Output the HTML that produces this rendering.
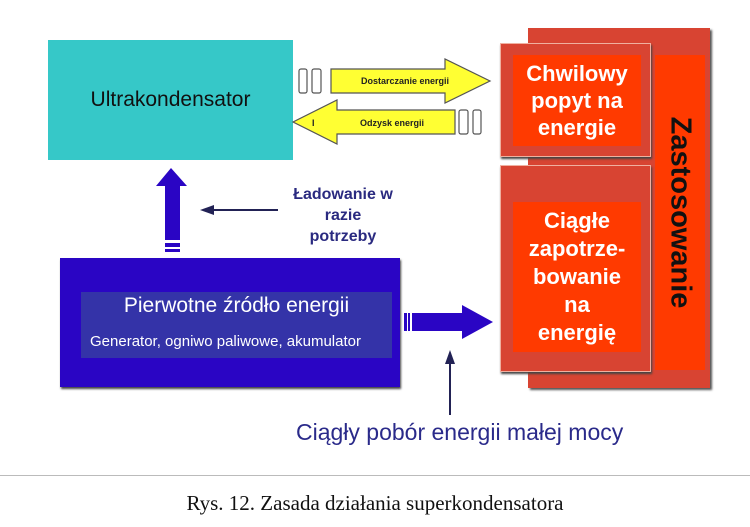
<!DOCTYPE html>
<html><head><meta charset="utf-8"><style>
body{margin:0;width:750px;height:527px;background:#fff;position:relative;overflow:hidden;font-family:"Liberation Sans",sans-serif}
div{position:absolute;box-sizing:border-box}
.c{display:flex;align-items:center;justify-content:center;text-align:center}
</style></head><body>
<div class="c" style="left:48px;top:40px;width:245px;height:120px;background:#36c8c8;font-size:21px;color:#111">Ultrakondensator</div>

<div style="left:528px;top:28px;width:182px;height:360px;background:#d84432;box-shadow:2px 2px 2px #555"></div>
<div style="left:655px;top:55px;width:50px;height:315px;background:#ff3a00"></div>
<div class="c" style="left:655px;top:55px;width:50px;height:315px"><div style="position:static;transform:rotate(90deg);white-space:nowrap;font-weight:bold;font-size:29px;color:#111">Zastosowanie</div></div>
<div style="left:500px;top:43px;width:151px;height:114px;background:#d84432;border:1px solid #f0b0a0;box-shadow:1px 2px 2px #444"></div>
<div class="c" style="left:513px;top:55px;width:128px;height:91px;background:#ff3a00;color:#fff;font-weight:bold;font-size:22px;line-height:27px">Chwilowy<br>popyt na<br>energie</div>
<div style="left:500px;top:165px;width:151px;height:207px;background:#d84432;border:1px solid #f0b0a0;box-shadow:1px 2px 2px #444"></div>
<div class="c" style="left:513px;top:202px;width:128px;height:150px;background:#ff3a00;color:#fff;font-weight:bold;font-size:22px;line-height:28px">Ciągłe<br>zapotrze-<br>bowanie<br>na<br>energię</div>

<div style="left:60px;top:258px;width:340px;height:129px;background:#2a05c4;box-shadow:1px 2px 2px #444"></div>
<div style="left:81px;top:292px;width:311px;height:66px;background:#3433a8"></div>
<div style="left:81px;top:294px;width:311px;text-align:center;color:#fff;font-size:21px">Pierwotne źródło energii</div>
<div style="left:90px;top:333px;color:#fff;font-size:15px">Generator, ogniwo paliwowe, akumulator</div>

<div style="left:273px;top:184px;width:140px;text-align:center;color:#2a2a80;font-weight:bold;font-size:16px;line-height:21px">Ładowanie w<br>razie<br>potrzeby</div>
<div style="left:296px;top:419px;color:#2a2a8a;font-size:23px">Ciągły pobór energii małej mocy</div>
<div style="left:0;top:475px;width:750px;height:1px;background:#bbb"></div>
<div style="left:0;top:491px;width:750px;text-align:center;font-family:'Liberation Serif',serif;font-size:21px;color:#111">Rys. 12. Zasada działania superkondensatora</div>

<svg width="750" height="527" style="position:absolute;left:0;top:0">
<g fill="#2a05c4">
<polygon points="171,168 187,186 180,186 180,240 165,240 165,186 156,186"/>
<rect x="165" y="243" width="15" height="4"/><rect x="165" y="249" width="15" height="3"/>
<polygon points="412,313 462,313 462,305 493,322 462,339 462,331 412,331"/>
<rect x="404" y="313" width="3" height="18"/><rect x="408" y="313" width="2" height="18"/>
</g>
<g stroke="#222255" stroke-width="2" fill="#222255">
<line x1="212" y1="210" x2="278" y2="210"/><polygon points="200,210 214,205 214,215" stroke="none"/>
<line x1="450" y1="362" x2="450" y2="415"/><polygon points="450,350 445,364 455,364" stroke="none"/>
</g>
<g stroke="#555" stroke-width="1.2" fill="#fff">
<rect x="299" y="69" width="8" height="24" rx="2"/><rect x="312" y="69" width="9" height="24" rx="2"/>
<polygon points="331,69 445,69 445,59 490,81 445,103 445,93 331,93" fill="#ffff33"/>
<rect x="459" y="110" width="9" height="24" rx="2"/><rect x="473" y="110" width="8" height="24" rx="2"/>
<polygon points="455,110 337,110 337,100 293,122 337,144 337,134 455,134" fill="#ffff33"/>
</g>
<g font-family="Liberation Sans" font-size="9" font-weight="bold" fill="#222">
<text x="361" y="84">Dostarczanie energii</text>
<text x="360" y="126">Odzysk energii</text>
<text x="312" y="126">I</text>
</g>
</svg>
</body></html>
